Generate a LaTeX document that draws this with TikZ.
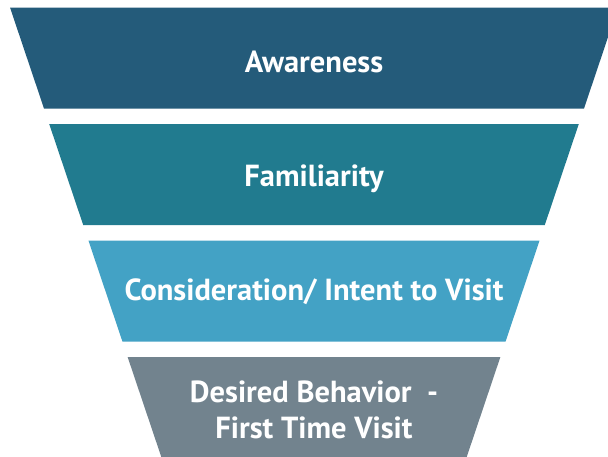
\documentclass[tikz,border=0pt]{standalone}
\usepackage{fontspec}
\setmainfont{PT Sans}
\definecolor{awarecol}{HTML}{245B7A}
\definecolor{familcol}{HTML}{217B8F}
\definecolor{considcol}{HTML}{43A2C5}
\definecolor{desirecol}{HTML}{72838E}
\begin{document}
\begin{tikzpicture}[x=1pt,y=-1pt,
    stage/.style={fill=#1},
    stagetext/.style={text=white,align=center,
        font=\bfseries\fontsize{30.5}{36}\selectfont}]
\useasboundingbox (0,0) rectangle (608,456);
% funnel slices
\foreach \i/\col in {0/awarecol,1/familcol,2/considcol,3/desirecol}{
    \pgfmathsetmacro{\yt}{7.5+116.5*\i}
    \pgfmathsetmacro{\yb}{\yt+101}
    \pgfmathsetmacro{\wt}{304-0.3366*(\yt-7.5)}
    \pgfmathsetmacro{\wb}{\wt-34}
    \fill[stage=\col] (314-\wt,\yt) -- (314+\wt,\yt) -- (314+\wb,\yb) -- (314-\wb,\yb) -- cycle;
    \coordinate (mid\i) at (314,\yt+50.5);
}
% labels
\node[stagetext] (aware) at ([yshift=-4]mid0) {Awareness};
\node[stagetext] (famil) at ([yshift=-4]mid1) {Familiarity};
\node[stagetext] (consid) at ([yshift=-1]mid2) {Consideration/ Intent to Visit};
\node[stagetext] (desire) at ([yshift=-2.5]mid3) {Desired Behavior~ -\\First Time Visit};
\end{tikzpicture}
\end{document}
